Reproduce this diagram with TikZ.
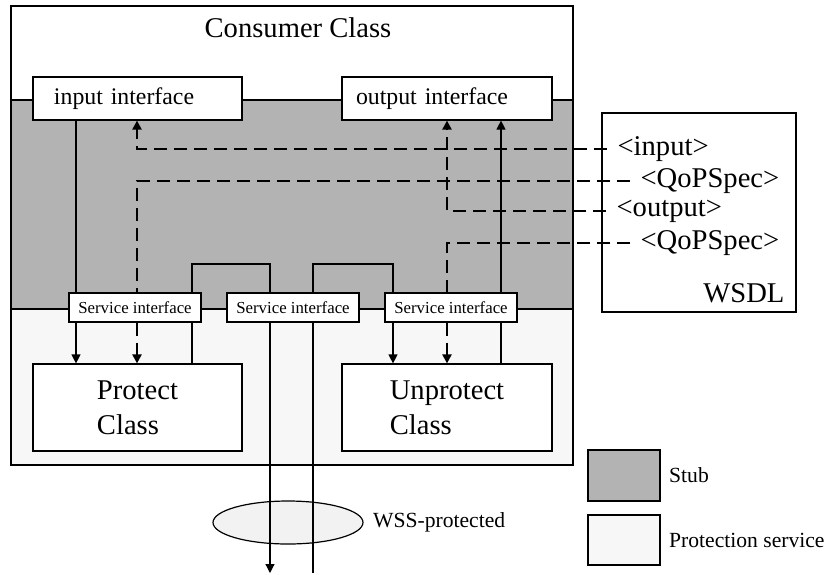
\documentclass[tikz,border=0pt]{standalone}
\usepackage{fontspec}
\setmainfont{Liberation Serif}
\usetikzlibrary{arrows.meta,shapes.geometric}
\definecolor{stubgray}{RGB}{179,179,179}
\definecolor{protgray}{RGB}{247,247,247}
\definecolor{wssgray}{RGB}{242,242,242}

\begin{document}
\begin{tikzpicture}[x=0.5pt,y=-0.5pt,line width=0.6pt,
  box/.style={draw,fill=white,inner sep=0pt},
  big/.style={font=\fontsize{14.3}{17.5}\selectfont},
  mid/.style={font=\fontsize{11.9}{14}\selectfont},
  tiny/.style={font=\fontsize{8.4}{10}\selectfont},
  leg/.style={font=\fontsize{10.8}{13}\selectfont},
  sibox/.style={box,tiny,minimum width=66pt,minimum height=14.5pt},
  flow/.style={line width=1.1pt,dash pattern=on 6.5pt off 3.5pt},
  tip/.style={-{Triangle[length=4.5pt,width=4.5pt]}},
  spec/.style={big,anchor=west,inner xsep=5pt,inner ysep=0pt}]
  \useasboundingbox (0,0) rectangle (825,574);
  \fill[white] (11,6) rectangle (573,100);
  \fill[stubgray] (11,100) rectangle (573,309);
  \fill[protgray] (11,309) rectangle (573,465);
  \draw (11,100)--(573,100) (11,309)--(573,309);
  \draw (11,6) rectangle (573,465);
  \node[big] (ctitle) at (298,28) {Consumer Class};
  \node[box,mid,minimum height=21.5pt,text width=83.5pt,inner xsep=10.5pt,align=left] (inif) at (137.5,98.5) {input interface};
  \node[box,mid,minimum height=21.5pt,text width=91pt,inner xsep=7pt,align=left] (outif) at (447,98.5) {output interface};
  \node[sibox] (si1) at (135,307.5) {Service interface};
  \node[sibox] (si2) at (293,307.5) {Service interface};
  \node[sibox] (si3) at (451,307.5) {Service interface};
  \node[box,big,align=left,minimum width=104.5pt,minimum height=43.5pt] (prot) at (137.5,407.5) {Protect\\Class};
  \node[box,big,align=left,minimum width=105pt,minimum height=43.5pt] (unprot) at (447,407.5) {Unprotect\\Class};
  \node[box,minimum width=97pt,minimum height=99.5pt] (wsdl) at (699,212.5) {};
  \node[big,anchor=east,inner sep=0pt] (wsdlname) at (785,293) {WSDL};
  \node[spec] (xin) at (607,149) {<input>};
  \node[spec] (xq1) at (630,181) {<QoPSpec>};
  \node[spec] (xout) at (606,211) {<output>};
  \node[spec] (xq2) at (630,243) {<QoPSpec>};
  \node[box,fill=stubgray,minimum width=36pt,minimum height=25.5pt] (lstub) at (624,475.5) {};
  \node[leg,anchor=west,inner sep=0pt] (lstubtxt) at ([xshift=4pt]lstub.east) {Stub};
  \node[box,fill=protgray,minimum width=36pt,minimum height=25pt] (lprot) at (624,540) {};
  \node[leg,anchor=west,inner sep=0pt] (lprottxt) at ([xshift=4pt]lprot.east) {Protection service};
  \node[draw,ellipse,fill=wssgray,minimum width=75pt,minimum height=21.5pt,inner sep=0pt] (wss) at (288,522.5) {};
  \node[leg,anchor=west,inner sep=0pt] (wsstxt) at ([xshift=4.5pt]wss.east) {WSS-protected};
  \coordinate (c1) at (76,0);
  \coordinate (c2) at (137,0);
  \coordinate (c3) at (192,0);
  \coordinate (c4) at (270,0);
  \coordinate (c5) at (313,0);
  \coordinate (c6) at (393,0);
  \coordinate (c7) at (447,0);
  \coordinate (c8) at (501,0);
  \coordinate (lp) at (0,264);
  \coordinate (bot) at (0,573);
  \draw (inif.south -| c1)--(si1.north -| c1);
  \draw[tip] (si1.south -| c1)--(prot.north -| c1);
  \draw[flow,tip] (xin.west) -| (inif.south -| c2);
  \draw[flow] (xq1.west) -| (si1.north -| c2);
  \draw[flow,tip] (si1.south -| c2)--(prot.north -| c2);
  \draw (si1.north -| c3)--(lp -| c3)--(lp -| c4)--(si2.north -| c4);
  \draw (si1.south -| c3)--(prot.north -| c3);
  \draw[tip] (si2.south -| c4)--(bot -| c4);
  \draw (si2.south -| c5)--(bot -| c5);
  \draw (si2.north -| c5)--(lp -| c5)--(lp -| c6)--(si3.north -| c6);
  \draw[tip] (si3.south -| c6)--(unprot.north -| c6);
  \draw[flow,tip] (xout.west) -| (outif.south -| c7);
  \draw[flow] (xq2.west) -| (si3.north -| c7);
  \draw[flow,tip] (si3.south -| c7)--(unprot.north -| c7);
  \draw[tip] (si3.north -| c8)--(outif.south -| c8);
  \draw (si3.south -| c8)--(unprot.north -| c8);
\end{tikzpicture}
\end{document}
